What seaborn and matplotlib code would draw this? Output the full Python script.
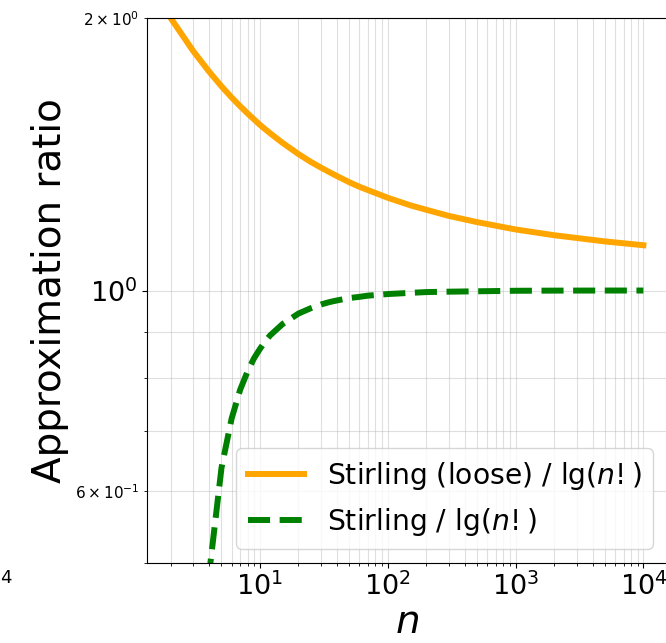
import numpy as np
import pandas as pd
import seaborn as sns
import matplotlib
matplotlib.use("Agg")
import matplotlib.pyplot as plt

# values (log-log axes)
n_loose = [2, 3, 4, 5, 6, 7, 8, 9, 10, 11, 12, 15, 20, 25, 30, 35, 40, 50, 60, 70, 100,
           150, 200, 300, 500, 1000, 2000, 5000, 10000]
ratio_loose = [2.0, 1.839, 1.745, 1.681, 1.634, 1.598, 1.569, 1.545, 1.524, 1.507, 1.492, 1.456,
               1.415, 1.387, 1.367, 1.351, 1.338, 1.317, 1.302, 1.291, 1.266,
               1.242, 1.228, 1.209, 1.190, 1.168, 1.151, 1.133, 1.122]

n_stirling = [3, 4, 5, 6, 7, 8, 9, 10, 11, 12, 15, 20, 25, 30, 35, 40, 50, 60, 70, 100,
              150, 200, 300, 500, 1000, 2000, 5000, 10000]
ratio_stirling = [0.165, 0.486, 0.637, 0.722, 0.777, 0.814, 0.842, 0.862, 0.879, 0.892, 0.918,
                  0.943, 0.956, 0.965, 0.971, 0.975, 0.981, 0.984, 0.987, 0.991,
                  0.994, 0.996, 0.997, 0.998, 0.9993, 0.9997, 0.9999, 0.99994]

label_loose = r"Stirling (loose) / lg($n!$)"
label_stirling = r"Stirling / lg($n!$)"

fig = plt.figure(figsize=(6.66, 6.43), dpi=100)
ax = fig.add_axes([147 / 666, (643 - 563) / 643, (667 - 147) / 666, (563 - 18) / 643])

sns.lineplot(x=n_loose, y=ratio_loose, color="orange", linewidth=4.3,
             label=label_loose, ax=ax, sort=False)
sns.lineplot(x=n_stirling, y=ratio_stirling, color="green", linewidth=4.3,
             linestyle="--", label=label_stirling, ax=ax, sort=False)

ax.set_xscale("log")
ax.set_yscale("log")
ax.set_xlim(10 ** (np.log10(2) - 0.05 * (4 - np.log10(2))), 10 ** (4 + 0.05 * (4 - np.log10(2))))
ax.set_ylim(0.5, 2)

ax.grid(True, which="both", alpha=0.4)
ax.tick_params(axis="both", which="major", labelsize=19.5)
ax.tick_params(axis="both", which="minor", labelsize=11)

ax.set_xlabel(r"$n$", fontsize=28, labelpad=1)
ax.set_ylabel("Approximation ratio", fontsize=28)
ax.legend(loc="lower right", fontsize=20.3)

# leftover of the neighbouring panel's tick label
fig.text(0.0, 1 - 578 / 643, "4", fontsize=13, va="center", ha="left")

fig.savefig("out.png", dpi=100)
